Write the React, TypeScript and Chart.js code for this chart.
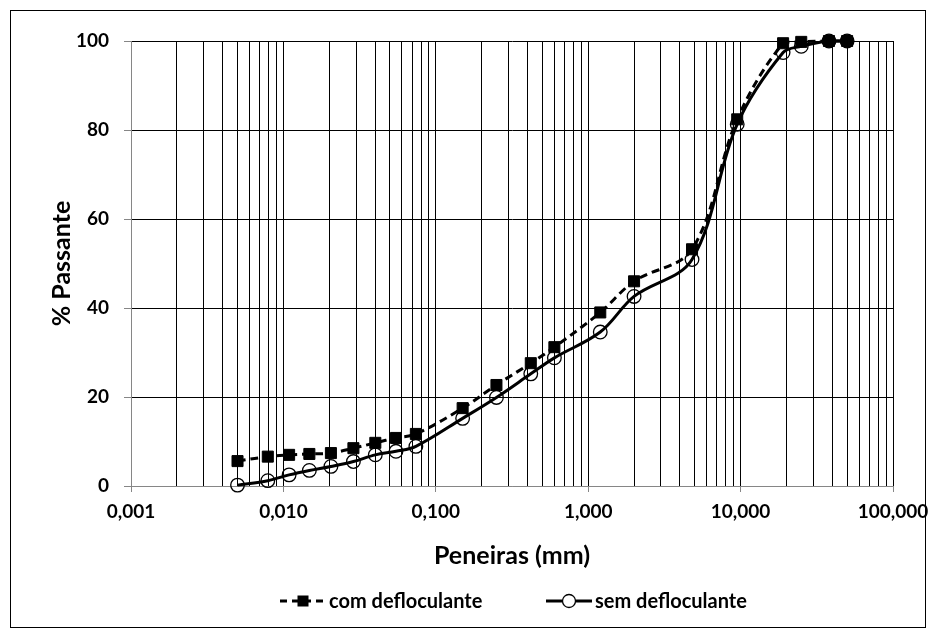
import React, { useEffect, useRef } from "react";
import { Chart, registerables } from "chart.js";

Chart.register(...registerables);

// Sieve / grain sizes (mm)
const SIZES_MM = [0.005, 0.0079, 0.0109, 0.0148, 0.0205, 0.0288, 0.0401, 0.0548, 0.074, 0.15, 0.25, 0.42, 0.6, 1.2, 2.0, 4.8, 9.5, 19, 25, 38, 50];
// % passing, with deflocculant
const COM_DEFLOC = [5.6, 6.6, 7.0, 7.2, 7.4, 8.5, 9.7, 10.8, 11.7, 17.5, 22.7, 27.6, 31.2, 39.0, 46.0, 53.2, 82.4, 99.5, 99.8, 100, 100];
// % passing, without deflocculant
const SEM_DEFLOC = [0.2, 1.2, 2.5, 3.5, 4.4, 5.5, 7.0, 7.8, 8.9, 15.2, 19.9, 25.2, 28.8, 34.6, 42.6, 50.9, 81.3, 97.4, 98.8, 100, 100];

const SERIES_LABELS = ["com defloculante", "sem defloculante"];
const X_TITLE = "Peneiras (mm)";
const Y_TITLE = "% Passante";
const X_MIN = 0.001;
const X_MAX = 100;
const Y_TICKS = [0, 20, 40, 60, 80, 100];

const FONT = "Lato, 'Open Sans', sans-serif";
const GRAY = "#868686";

function gridValues(): number[] {
  const out: number[] = [];
  for (let e = Math.log10(X_MIN); e < Math.log10(X_MAX); e++) {
    for (let m = 1; m <= 9; m++) out.push(Number((m * Math.pow(10, e)).toPrecision(6)));
  }
  out.push(X_MAX);
  return out;
}

function isDecade(v: number) {
  const l = Math.log10(v);
  return Math.abs(l - Math.round(l)) < 1e-9;
}

const frameLegendPlugin = {
  id: "frameLegend",
  beforeDraw(chart: any) {
    const ctx = chart.ctx;
    ctx.save();
    ctx.fillStyle = "#fff";
    ctx.fillRect(0, 0, chart.width, chart.height);
    ctx.restore();
  },
  afterDraw(chart: any) {
    const ctx = chart.ctx;
    ctx.save();
    ctx.strokeStyle = "#000";
    ctx.lineWidth = 1;
    ctx.strokeRect(10.5, 10.5, 915, 617);

    const y = 601;
    const ds = chart.data.datasets;
    ctx.font = `bold 20px ${FONT}`;
    ctx.fillStyle = "#000";
    ctx.textBaseline = "middle";
    ctx.textAlign = "left";

    // item 1: dashed line + square
    ctx.strokeStyle = "#000";
    ctx.lineWidth = 3;
    ctx.setLineDash([7, 5]);
    ctx.beginPath();
    ctx.moveTo(280, y);
    ctx.lineTo(324, y);
    ctx.stroke();
    ctx.setLineDash([]);
    ctx.fillRect(303 - 5.5, y - 5.5, 11, 11);
    ctx.fillText(ds[0].label, 329, y + 1);

    // item 2: solid line + open circle
    const x2 = 546;
    ctx.beginPath();
    ctx.moveTo(x2, y);
    ctx.lineTo(x2 + 46, y);
    ctx.stroke();
    ctx.lineWidth = 1.3;
    ctx.fillStyle = "#fff";
    ctx.beginPath();
    ctx.arc(x2 + 23, y, 6.5, 0, Math.PI * 2);
    ctx.fill();
    ctx.stroke();
    ctx.fillStyle = "#000";
    ctx.fillText(ds[1].label, x2 + 49, y + 1);
    ctx.restore();
  },
};

export default function App() {
  const ref = useRef<HTMLCanvasElement | null>(null);

  useEffect(() => {
    document.body.style.margin = "0";
    const canvas = ref.current;
    if (!canvas) return;
    const grid = gridValues();

    const chart = new Chart(canvas, {
      type: "line",
      data: {
        datasets: [
          {
            label: SERIES_LABELS[0],
            data: SIZES_MM.map((x, i) => ({ x, y: COM_DEFLOC[i] })),
            borderColor: "#000",
            backgroundColor: "#000",
            borderWidth: 3,
            borderDash: [8, 5],
            pointStyle: "rect",
            pointRadius: 7.8,
            pointBorderWidth: 1,
            pointBackgroundColor: "#000",
            pointBorderColor: "#000",
            tension: 0.35,
            clip: false,
          },
          {
            label: SERIES_LABELS[1],
            data: SIZES_MM.map((x, i) => ({ x, y: SEM_DEFLOC[i] })),
            borderColor: "#000",
            backgroundColor: "transparent",
            borderWidth: 3,
            pointStyle: "circle",
            pointRadius: 6.8,
            pointBorderWidth: 1.3,
            pointBackgroundColor: (c: any) => (c.raw && c.raw.y >= 100 ? "#000" : "rgba(0,0,0,0)"),
            pointBorderColor: "#000",
            tension: 0.35,
            clip: false,
          },
        ],
      },
      options: {
        responsive: false,
        animation: false,
        events: [],
        layout: { padding: { top: 41, right: 39, bottom: 0, left: 0 } },
        plugins: {
          legend: { display: false },
          tooltip: { enabled: false },
        },
        scales: {
          x: {
            type: "logarithmic",
            min: X_MIN,
            max: X_MAX,
            afterBuildTicks: (scale: any) => {
              scale.ticks = grid.map((v) => ({ value: v, major: isDecade(v) }));
            },
            afterFit: (scale: any) => {
              scale.height = 150;
              scale.paddingLeft = 0;
              scale.paddingRight = 0;
            },
            ticks: {
              autoSkip: false,
              maxRotation: 0,
              minRotation: 0,
              padding: 8,
              color: "#000",
              font: { family: FONT, size: 19, weight: "bold" },
              callback: (v: any) => (isDecade(Number(v)) ? Number(v).toFixed(3).replace(".", ",") : ""),
            },
            grid: {
              color: (c: any) => (c.tick && Math.abs(c.tick.value - X_MIN) < 1e-12 ? GRAY : "#000"),
              lineWidth: 1,
              tickLength: 6,
              tickColor: (c: any) => (c.tick && isDecade(c.tick.value) ? GRAY : "rgba(0,0,0,0)"),
            },
            border: { color: GRAY, width: 1 },
            title: {
              display: true,
              text: X_TITLE,
              color: "#000",
              font: { family: FONT, size: 25, weight: "bold" },
              padding: { top: 0, bottom: 65 },
            },
          },
          y: {
            type: "linear",
            min: 0,
            max: 100,
            afterBuildTicks: (scale: any) => {
              scale.ticks = Y_TICKS.map((v) => ({ value: v }));
            },
            afterFit: (scale: any) => {
              scale.width = 131;
            },
            ticks: {
              padding: 15,
              color: "#000",
              font: { family: FONT, size: 19, weight: "bold" },
              callback: (v: any) => String(v),
            },
            grid: {
              color: (c: any) => (c.tick && c.tick.value === 0 ? GRAY : "#000"),
              lineWidth: 1,
              tickLength: 7,
              tickColor: GRAY,
            },
            border: { color: GRAY, width: 1 },
            title: {
              display: true,
              text: Y_TITLE,
              color: "#000",
              font: { family: FONT, size: 25, weight: "bold" },
              padding: { top: 47, bottom: 0 },
            },
          },
        },
      },
      plugins: [frameLegendPlugin],
    } as any);

    return () => chart.destroy();
  }, []);

  return (
    <div style={{ width: 932, height: 636 }}>
      <canvas ref={ref} width={932} height={636} style={{ display: "block", width: 932, height: 636 }} />
    </div>
  );
}
